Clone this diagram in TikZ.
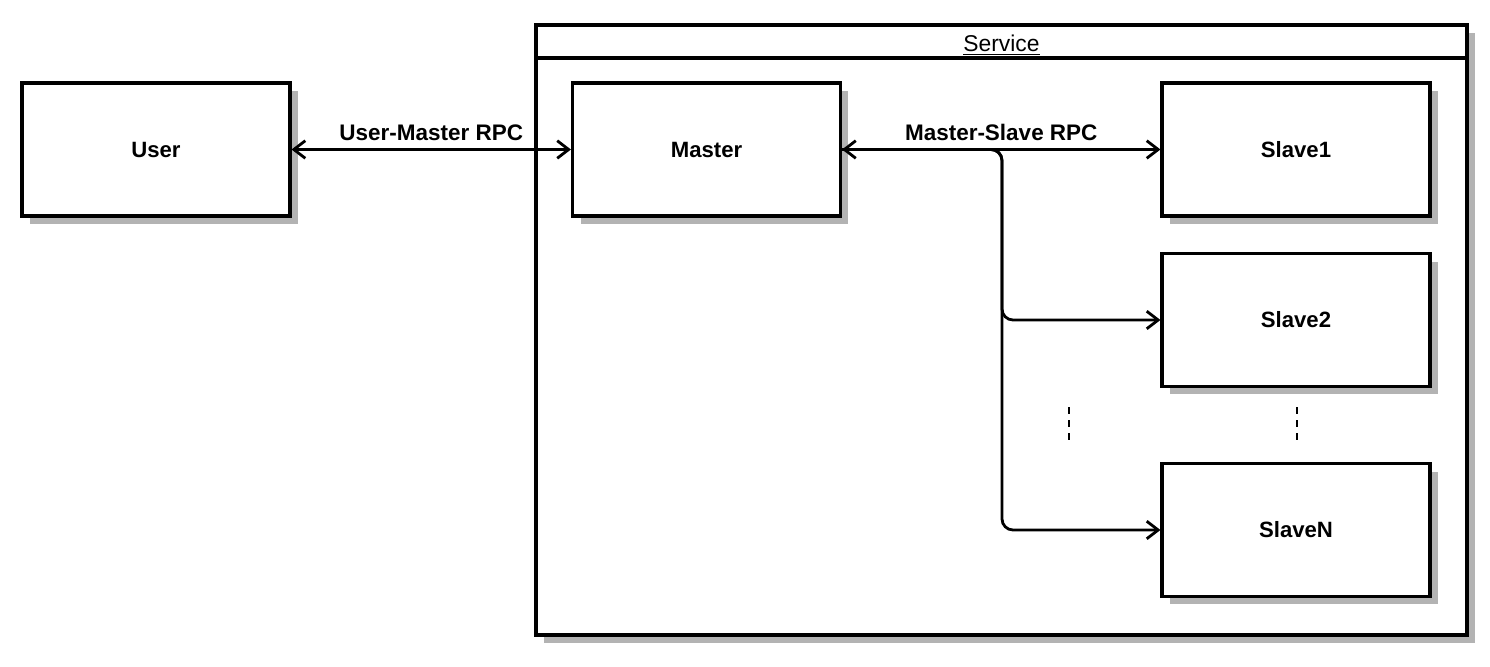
\documentclass[tikz,border=0pt]{standalone}
\usepackage{fontspec}
\setmainfont{Liberation Sans}
\usetikzlibrary{arrows.meta,shadows,calc}
\definecolor{shadowgray}{HTML}{B3B3B3}
\tikzset{
  shd/.style={drop shadow={shadow xshift=0.16cm, shadow yshift=-0.16cm, fill=shadowgray, opacity=1}},
  box/.style={draw=black, line width=1.8pt, fill=white, minimum width=5.36cm, minimum height=2.66cm,
    font=\fontsize{12.6}{14}\selectfont\bfseries, shd},
  svcbox/.style={draw=black, line width=2.2pt, fill=white, minimum width=18.62cm, minimum height=12.2cm, shd},
  link/.style={line width=1.6pt, -{Straight Barb[length=6.5pt, width=10pt, line width=1.6pt]}},
  blink/.style={line width=1.6pt, {Straight Barb[length=6.5pt, width=10pt, line width=1.6pt]}-{Straight Barb[length=6.5pt, width=10pt, line width=1.6pt]}},
  lbl/.style={font=\fontsize{12.8}{14}\selectfont\bfseries, inner sep=1pt, yshift=3pt},
  dots/.style={line width=1pt, dash pattern=on 0.13cm off 0.13cm},
}
\begin{document}
\begin{tikzpicture}[x=0.02cm, y=-0.02cm]
\useasboundingbox (0,0) rectangle (1490,666);
% service container
\node[svcbox] (service) at (1001.5,330) {};
\coordinate (hdrL) at ($(service.north west)+(0,-0.7cm)$);
\coordinate (hdrR) at ($(service.north east)+(0,-0.7cm)$);
\draw[line width=2.2pt] (hdrL) -- (hdrR);
\node[font=\fontsize{13}{15}\selectfont, yshift=-2.5pt] (svctitle) at ($(service.north)!0.5!($(hdrL)!0.5!(hdrR)$)$) {\underline{Service}};
% boxes
\node[box] (user) at (156,149.5) {User};
\node[box] (master) at (706.5,149.5) {Master};
\node[box] (slave1) at (1296,149.5) {Slave1};
\node[box] (slave2) at (1296,320) {Slave2};
\node[box] (slaveN) at (1296,530) {SlaveN};
% connectors
\draw[blink] (user.east) -- (master.west) node[midway, above, lbl] {User-Master RPC};
\draw[blink] (master.east) -- (slave1.west) node[midway, above, lbl] {Master-Slave RPC};
\coordinate (bx) at (1002,149.5);
\draw[link, rounded corners=0.22cm] (master.east) -- (bx) |- (slave2.west);
\draw[link, rounded corners=0.22cm] (master.east) -- (bx) |- (slaveN.west);
% ellipsis marks
\coordinate (d1a) at (1069,407);
\coordinate (d1b) at (1069,443);
\coordinate (d2a) at (1297,407);
\coordinate (d2b) at (1297,443);
\draw[dots] (d1a) -- (d1b);
\draw[dots] (d2a) -- (d2b);
\end{tikzpicture}
\end{document}
